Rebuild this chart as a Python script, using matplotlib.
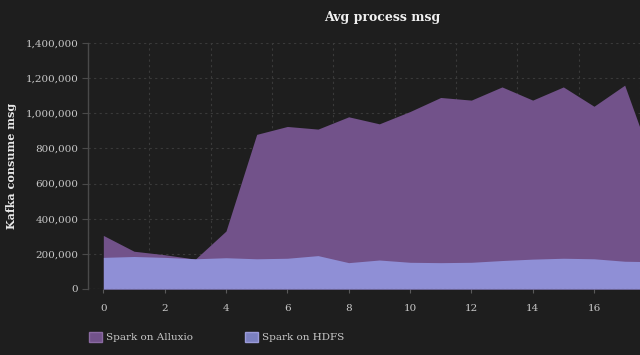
import matplotlib
matplotlib.use("Agg")
import matplotlib.pyplot as plt
from matplotlib.patches import Patch
import numpy as np

x = list(range(19))
alluxio = [305000, 215000, 195000, 170000, 330000, 880000, 925000, 910000, 980000,
           940000, 1010000, 1090000, 1075000, 1150000, 1075000, 1150000, 1040000,
           1160000, 675000]
hdfs = [180000, 185000, 180000, 172000, 178000, 172000, 175000, 190000, 150000,
        165000, 152000, 150000, 152000, 162000, 170000, 175000, 172000, 158000, 155000]
series_names = ["Spark on Alluxio", "Spark on HDFS"]
title = "Avg process msg"
ylabel = "Kafka consume msg"

bg = "#1e1e1e"
c_all = "#72528a"
c_hdfs = "#8f8fd6"
txt = "#c8c8c8"

plt.rcParams["font.family"] = ["DejaVu Serif"]
fig = plt.figure(figsize=(6.4, 3.55), dpi=100, facecolor=bg)
ax = fig.add_axes([88/640, 66/355, 1 - 88/640, 246/355], facecolor=bg)

ax.fill_between(x, 0, alluxio, color=c_all, linewidth=0, zorder=2)
ax.fill_between(x, 0, hdfs, color=c_hdfs, linewidth=0, zorder=3)

ax.set_xlim(-0.5, 17.41)
ax.set_ylim(0, 1400000)
ax.set_xticks(range(0, 18, 2))
ax.set_xticks(np.arange(-0.5, 18, 2), minor=True)
ax.set_yticks(range(0, 1400001, 200000))
ax.yaxis.set_major_formatter(matplotlib.ticker.FuncFormatter(lambda v, p: f"{int(v):,}"))

ax.grid(True, which="minor", axis="x", color="#3a3a3a", linestyle=(0, (2, 3)), linewidth=0.8, zorder=1)
ax.grid(True, which="major", axis="y", color="#3a3a3a", linestyle=(0, (2, 3)), linewidth=0.8, zorder=1)
ax.grid(False, which="major", axis="x")
ax.axhline(0, color="#6a6a6a", linestyle=(0, (2, 2)), linewidth=0.8, zorder=4)

for s in ["top", "right", "bottom"]:
    ax.spines[s].set_visible(False)
ax.spines["left"].set_color("#4a4a4a")
ax.spines["left"].set_linewidth(1.0)

ax.tick_params(axis="x", which="major", colors="#5a5a5a", labelcolor=txt, length=3, labelsize=7.5, pad=8)
ax.tick_params(axis="x", which="minor", length=0)
ax.tick_params(axis="y", colors="#4a4a4a", labelcolor=txt, length=4, labelsize=7.5, pad=3)

ax.set_ylabel(ylabel, color="#e8e8e8", fontsize=8, fontweight="bold")
ax.yaxis.set_label_coords((17 - 88) / 552, 0.5)
fig.text(382/640, 1 - 18/355, title, color="#f0f0f0", fontsize=9, fontweight="bold",
         ha="center", va="center")

handles = [Patch(facecolor=c_all, edgecolor="#8a6aa2", label=series_names[0]),
           Patch(facecolor="#7b80c0", edgecolor="#9a9ad8", label=series_names[1])]
leg = fig.legend(handles=handles, loc="center left", bbox_to_anchor=(80/640, 1 - 337/355),
                 ncol=2, frameon=False, fontsize=7.5, labelcolor=txt,
                 handlelength=1.2, handleheight=1.2, columnspacing=5.0, handletextpad=0.4)

fig.savefig("out.png", dpi=100, facecolor=bg)
